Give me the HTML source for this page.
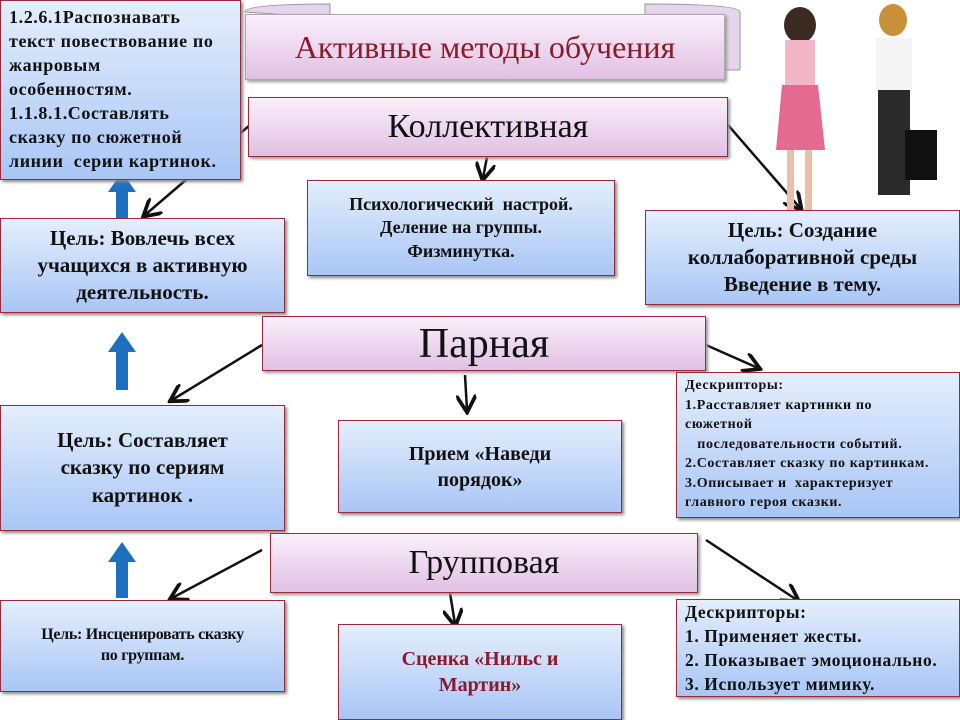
<!DOCTYPE html>
<html><head><meta charset="utf-8"><style>
body{margin:0;width:960px;height:720px;background:#fff;position:relative;overflow:hidden;font-family:"Liberation Serif","DejaVu Serif",serif;}
.b{position:absolute;box-sizing:border-box;border:1px solid #9a2a3a;background:linear-gradient(#e4eefc,#a9c6f5);box-shadow:2px 2px 3px #888;display:flex;align-items:center;justify-content:center;text-align:center;font-weight:bold;color:#111;line-height:1.3;}
.p{position:absolute;box-sizing:border-box;border:1px solid #9a2a3a;background:linear-gradient(#fbf0fb,#e0c0e4);box-shadow:2px 2px 3px #999;display:flex;align-items:center;justify-content:center;color:#111;}
.l{text-align:left;justify-content:flex-start;align-items:flex-start;white-space:nowrap;}
</style></head><body>
<svg width="960" height="720" style="position:absolute;left:0;top:0">
<defs><marker id="a" markerWidth="8" markerHeight="8" refX="6" refY="4" orient="auto"><path d="M0,0 L7,4 L0,8" fill="none" stroke="#111" stroke-width="1.5"/></marker></defs>
<g stroke="#111" stroke-width="2.5" fill="none" marker-end="url(#a)">
<line x1="250" y1="125" x2="145" y2="215"/><line x1="487" y1="157" x2="483" y2="178"/><line x1="728" y1="125" x2="800" y2="208"/>
<line x1="262" y1="345" x2="172" y2="400"/><line x1="465" y1="375" x2="467" y2="410"/><line x1="706" y1="345" x2="758" y2="368"/>
<line x1="262" y1="550" x2="172" y2="598"/><line x1="450" y1="593" x2="455" y2="624"/><line x1="706" y1="540" x2="797" y2="600"/>
</g>
<g fill="#1f6fc0"><path d="M116,218 V192 H108 L122,172 L136,192 H128 V218Z"/><path d="M116,390 V352 H108 L122,332 L136,352 H128 V390Z"/><path d="M116,598 V562 H108 L122,542 L136,562 H128 V598Z"/></g>
<path d="M245,12 Q245,4 330,4 L330,18 Z M645,4 Q740,4 740,12 L740,70 L645,70Z" fill="#e6d4ec" stroke="#999"/>
<ellipse cx="800" cy="25" rx="16" ry="18" fill="#3a2a22"/><rect x="785" y="40" width="30" height="45" fill="#f2b6c8"/><path d="M782,85 L818,85 L825,150 L776,150Z" fill="#e46a90"/><rect x="787" y="150" width="7" height="60" fill="#e8c0a8"/><rect x="805" y="150" width="7" height="60" fill="#e8c0a8"/>
<ellipse cx="893" cy="20" rx="14" ry="16" fill="#c8903a"/><rect x="876" y="38" width="36" height="55" fill="#f4f4f4"/><rect x="878" y="90" width="32" height="105" fill="#2a2a2a"/><rect x="905" y="130" width="32" height="50" fill="#111"/>
</svg>
<div class="p" style="left:245px;top:14px;width:480px;height:66px;border-color:#aaa;font-size:32px;color:#8b1a2a">Активные методы обучения</div>
<div class="b l" style="left:0;top:0;width:241px;height:180px;font-size:18px;padding:4px 8px;letter-spacing:0.6px;line-height:24px">1.2.6.1Распознавать<br>текст повествование по<br>жанровым<br>особенностям.<br>1.1.8.1.Составлять<br>сказку по сюжетной<br>линии&nbsp; серии картинок.</div>
<div class="p" style="left:248px;top:97px;width:480px;height:60px;font-size:34px">Коллективная</div>
<div class="b" style="left:307px;top:180px;width:308px;height:96px;font-size:18px">Психологический&nbsp; настрой.<br>Деление на группы.<br>Физминутка.</div>
<div class="b" style="left:0;top:218px;width:285px;height:95px;font-size:21px">Цель: Вовлечь всех<br>учащихся в активную<br>деятельность.</div>
<div class="b" style="left:645px;top:210px;width:315px;height:95px;font-size:21px">Цель: Создание<br>коллаборативной среды<br>Введение в тему.</div>
<div class="p" style="left:262px;top:316px;width:444px;height:55px;font-size:42px">Парная</div>
<div class="b" style="left:0;top:405px;width:285px;height:126px;font-size:21px">Цель: Составляет<br>сказку по сериям<br>картинок .</div>
<div class="b" style="left:338px;top:420px;width:284px;height:93px;font-size:20px">Прием «Наведи<br>порядок»</div>
<div class="b l" style="left:676px;top:372px;width:284px;height:146px;font-size:14px;padding:3px 8px;letter-spacing:0.6px;line-height:19.5px">Дескрипторы:<br>1.Расставляет картинки по<br>сюжетной<br>&nbsp;&nbsp; последовательности событий.<br>2.Составляет сказку по картинкам.<br>3.Описывает и&nbsp; характеризует<br>главного героя сказки.</div>
<div class="p" style="left:270px;top:533px;width:428px;height:60px;font-size:34px">Групповая</div>
<div class="b" style="left:0;top:600px;width:285px;height:92px;font-size:16px;letter-spacing:-0.3px">Цель: Инсценировать сказку<br>по группам.</div>
<div class="b" style="left:338px;top:624px;width:284px;height:96px;font-size:20px;color:#8b1a2a">Сценка «Нильс и<br>Мартин»</div>
<div class="b l" style="left:676px;top:599px;width:284px;height:98px;font-size:17.5px;padding:0 8px;letter-spacing:0.6px;line-height:24px">Дескрипторы:<br>1. Применяет жесты.<br>2. Показывает эмоционально.<br>3. Использует мимику.</div>
</body></html>
